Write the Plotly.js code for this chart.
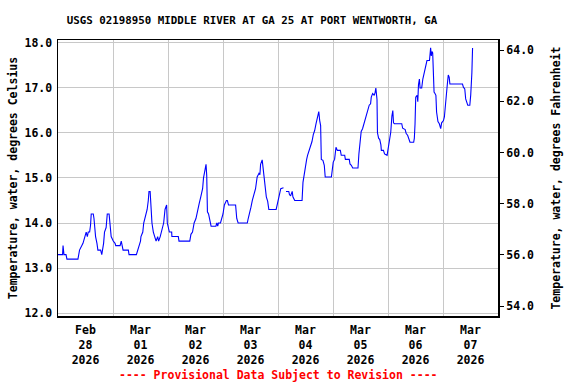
<!DOCTYPE html>
<html>
<head>
<meta charset="utf-8">
<script src="https://cdn.plot.ly/plotly-3.0.1.min.js"></script>
<style>html,body{margin:0;padding:0;background:#fff;}#chart{width:576px;height:384px;}</style>
</head>
<body>
<div id="chart"></div>
<script>
// Hours since 2026-02-28 00:00 and water temperature (deg C); null = data gap
const startDate = '2026-02-28T00:00:00Z';
const hoursSinceStart = [
 0.0,2.0,2.2,2.6,3.5,3.9,8.7,9.4,10.9,11.6,12.3,12.8,13.2,13.8,14.2,14.5,15.4,15.7,16.0,16.4,17.0,17.4,18.6,19.1,19.9,20.3,21.0,21.5,22.3,22.8,23.2,
 24.1,24.9,25.2,27.1,27.6,28.0,28.4,30.7,31.0,34.2,34.8,35.7,36.0,36.2,37.0,37.4,38.0,38.9,39.4,39.7,40.2,40.6,41.0,41.6,42.3,42.8,43.5,43.9,44.6,45.2,46.1,46.7,47.1,47.4,47.7,
 48.1,48.6,49.6,49.7,52.5,52.8,57.5,58.0,58.7,59.4,60.2,60.9,61.6,62.3,63.1,63.5,64.1,64.6,64.9,65.2,65.7,66.2,66.8,68.9,69.3,69.7,70.0,70.9,71.5,
 72.0,72.6,73.5,73.9,74.4,77.5,78.0,78.6,82.6,83.0,83.6,84.2,84.8,85.5,86.2,86.9,87.7,88.1,88.4,89.1,89.7,90.3,90.9,91.5,92.0,95.2,95.6,
 96.1,96.7,97.2,98.4,99.0,99.5,100.7,101.0,101.5,102.2,102.5,103.3,106.5,106.9,107.5,107.9,108.5,108.9,109.7,110.2,110.8,111.4,112.0,112.6,113.3,113.8,114.2,114.6,114.9,115.6,116.2,116.6,119.3,119.6,
 120.1,120.7,121.3,121.9,123.2,123.6,125.1,125.4,127.1,127.4,128.0,128.6,130.9,131.3,131.9,132.3,132.9,133.5,134.1,134.8,135.2,135.8,136.4,136.7,137.3,138.0,138.4,138.7,139.2,139.4,139.9,140.4,140.9,141.1,142.0,142.5,143.6,143.9,
 144.3,144.8,145.2,145.7,146.1,146.4,146.8,150.0,150.4,151.5,151.9,152.6,153.2,153.6,155.2,155.5,155.8,156.1,156.7,157.0,157.3,157.7,158.0,158.7,159.2,159.6,160.2,160.6,161.0,162.1,162.3,162.6,162.9,163.2,163.5,163.8,164.1,164.5,164.9,165.2,165.8,166.4,167.0,167.4,
 168.2,168.6,169.0,169.5,169.9,170.3,170.7,171.0,176.5,176.9,177.5,177.9,178.4,178.8,179.7,180.1,180.6,180.9
];
const tempC = [
 13.3,13.3,13.5,13.3,13.3,13.2,13.2,13.4,13.55,13.7,13.8,13.7,13.8,13.8,13.95,14.2,14.2,14.1,13.85,13.7,13.55,13.4,13.4,13.3,13.55,13.8,13.9,14.2,14.2,13.85,13.7,
 13.6,13.55,13.5,13.5,13.6,13.5,13.4,13.4,13.3,13.3,13.4,13.5,13.6,13.7,13.8,14.0,14.1,14.3,14.5,14.7,14.7,14.2,14.0,13.8,13.7,13.6,13.7,13.6,13.7,13.8,14.0,14.3,14.4,14.4,14.0,
 13.9,13.8,13.8,13.7,13.7,13.6,13.6,13.75,13.8,14.0,14.1,14.3,14.43,14.58,14.76,15.0,15.2,15.3,15.05,14.25,14.2,14.1,13.93,13.93,14.0,13.93,14.0,14.0,14.1,
 14.2,14.4,14.5,14.5,14.4,14.4,14.1,14.0,14.0,14.1,14.2,14.35,14.5,14.63,14.76,15.02,15.1,15.07,15.3,15.4,15.13,14.84,14.58,14.48,14.3,14.3,14.4,
 14.54,14.69,14.76,14.78,null,14.7,14.7,14.63,14.6,14.7,14.58,14.5,14.5,14.9,15.11,15.28,15.41,15.5,15.61,15.72,15.8,15.96,16.05,16.2,16.35,16.47,16.27,16.16,15.41,15.39,15.28,15.02,15.02,15.14,
 15.35,15.41,15.68,15.61,15.61,15.5,15.5,15.41,15.41,15.31,15.28,15.22,15.22,15.53,15.85,16.03,16.09,16.2,16.27,16.38,16.47,16.61,16.64,16.79,16.87,16.83,16.9,16.99,16.74,16.0,15.88,15.85,15.73,15.61,15.61,15.53,15.5,15.61,
 15.73,15.85,16.01,16.37,16.49,16.22,16.2,16.2,16.1,16.07,15.99,15.94,15.85,15.79,15.79,15.88,16.2,16.79,16.83,16.69,17.06,17.19,16.99,16.99,17.19,17.28,17.38,17.49,17.6,17.6,17.71,17.88,17.7,17.8,17.77,17.46,16.9,16.87,16.83,16.46,16.25,16.2,16.09,16.22,
 16.27,16.35,16.64,16.9,17.08,17.28,17.23,17.08,17.08,17.01,16.97,16.75,16.69,16.61,16.61,16.84,17.33,17.88
];
const xRange = ['2026-02-28 00:00', '2026-03-08 00:00'];
const yRangeC = [11.94, 18.055];
const yRangeF = [53.61, 64.40];
const titleText = 'USGS 02198950 MIDDLE RIVER AT GA 25 AT PORT WENTWORTH, GA';
const yTitleC = 'Temperature, water, degrees Celsius';
const yTitleF = 'Temperature, water, degrees Fahrenheit';
const footerText = '---- Provisional Data Subject to Revision ----';

function fmt(d){
  const p = n => String(n).padStart(2,'0');
  return d.getUTCFullYear()+'-'+p(d.getUTCMonth()+1)+'-'+p(d.getUTCDate())+' '+p(d.getUTCHours())+':'+p(d.getUTCMinutes())+':'+p(d.getUTCSeconds());
}
const base = Date.parse(startDate);
const times = hoursSinceStart.map(h => fmt(new Date(base + Math.round(h*3600000))));
const tempF = tempC.map(v => v === null ? null : v*9/5+32);

const FONT = 'DejaVu Sans Mono, Liberation Mono, monospace';
const tf = {family: FONT, size: 11.5, color: '#000', weight: 'bold'};

const traces = [
  {x: times, y: tempC, type: 'scatter', mode: 'lines', line: {color: '#0000ff', width: 1.1}, connectgaps: false, hoverinfo: 'skip', showlegend: false},
  {x: times, y: tempF, type: 'scatter', mode: 'lines', yaxis: 'y2', line: {color: 'rgba(0,0,0,0)', width: 0}, hoverinfo: 'skip', showlegend: false}
];

const layout = {
  width: 576, height: 384,
  margin: {l: 58, r: 78, t: 40, b: 68, pad: 0},
  paper_bgcolor: '#fff', plot_bgcolor: '#fff',
  showlegend: false,
  title: {text: titleText, font: {family: FONT, size: 10.8, color: '#000', weight: 'bold'}, x: 252/576, xanchor: 'center', y: 1 - 20/384, yanchor: 'middle', xref: 'container', yref: 'container'},
  xaxis: {
    type: 'date', range: xRange, tick0: '2026-02-28', dtick: 86400000, ticklabelmode: 'period',
    tickformat: '%b<br>%d<br>%Y', tickfont: tf, showgrid: true, gridcolor: '#c8c8c8', gridwidth: 1,
    showline: true, linecolor: '#000', linewidth: 1.5, mirror: true,
    ticks: 'outside', ticklen: 3, tickcolor: 'rgba(0,0,0,0)', zeroline: false
  },
  yaxis: {
    range: yRangeC, dtick: 1, tick0: 12, tickformat: '.1f', tickfont: tf,
    showgrid: true, gridcolor: '#c8c8c8', gridwidth: 1, showline: true, linecolor: '#000', linewidth: 1.5, mirror: true,
    ticks: 'outside', ticklen: 2, tickcolor: 'rgba(0,0,0,0)', zeroline: false,
    title: {text: yTitleC, font: tf, standoff: 4}
  },
  yaxis2: {
    overlaying: 'y', side: 'right', range: yRangeF, dtick: 2, tick0: 54, tickformat: '.1f', tickfont: tf,
    showgrid: false, zeroline: false, ticks: 'outside', ticklen: 5, tickcolor: '#000', tickwidth: 1,
    showline: false,
    title: {text: yTitleF, font: tf, standoff: 18}
  },
  annotations: [
    {text: footerText, xref: 'paper', yref: 'paper', x: 0.5, y: (316-375)/276, xanchor: 'center', yanchor: 'middle', showarrow: false,
     font: {family: FONT, size: 11.5, color: '#ff0000', weight: 'bold'}}
  ]
};

Plotly.newPlot('chart', traces, layout, {staticPlot: true, displayModeBar: false});
</script>
</body>
</html>
